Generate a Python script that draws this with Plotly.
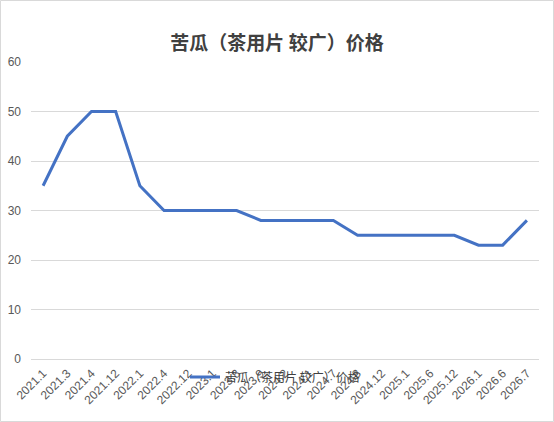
import plotly.graph_objects as go

categories = ["2021.1", "2021.3", "2021.4", "2021.12", "2022.1", "2022.4", "2022.12",
              "2023.1", "2023.8", "2023.9", "2024.2", "2024.1", "2024.7", "2024.8",
              "2024.12", "2025.1", "2025.6", "2025.12", "2026.1", "2026.6", "2026.7"]
prices = [35, 45, 50, 50, 35, 30, 30, 30, 30, 28, 28, 28, 28, 25, 25, 25, 25, 25, 23, 23, 28]
series_name = "苦瓜（茶用片 较广）价格"
title_text = "苦瓜（茶用片 较广）价格"

W, H = 554, 422
L, R, T, B = 31, 15, 62, 63
pw, ph = W - L - R, H - T - B

fig = go.Figure()
fig.add_trace(go.Scatter(
    x=list(range(len(categories))), y=prices, mode="lines", name=series_name,
    line=dict(color="#4472C4", width=3),
))

fig.update_layout(
    width=W, height=H,
    margin=dict(l=L, r=R, t=T, b=B, autoexpand=False),
    paper_bgcolor="white", plot_bgcolor="white",
    title=dict(text="<b>" + title_text + "</b>", x=0.5, xanchor="center",
               y=1 - 43 / H, yanchor="middle",
               font=dict(family="Noto Sans CJK SC", size=19, color="#404040")),
    xaxis=dict(
        range=[-0.5, len(categories) - 0.5], automargin=False,
        tickmode="array", tickvals=list(range(len(categories))), ticktext=categories,
        tickangle=-45, showgrid=False, zeroline=False, showline=False,
        ticks="", ticklabelstandoff=4,
        tickfont=dict(family="Liberation Sans, Arial", size=12, color="#595959"),
    ),
    yaxis=dict(
        range=[0, 60], dtick=10, showgrid=True, gridcolor="#d9d9d9", gridwidth=1,
        zeroline=True, zerolinecolor="#d9d9d9", zerolinewidth=1, showline=False,
        ticks="", ticklabelstandoff=9, automargin=False,
        tickfont=dict(family="Liberation Sans, Arial", size=12, color="#595959"),
    ),
    showlegend=True,
    legend=dict(orientation="h", x=(185 - L) / pw, y=(H - B - 377) / ph,
                xanchor="left", yanchor="middle", bgcolor="rgba(0,0,0,0)",
                itemwidth=30,
                font=dict(family="Noto Sans CJK SC", size=12, color="#404040")),
    shapes=[dict(type="rect", xref="paper", yref="paper",
                 x0=(0.5 - L) / pw, x1=(W - 0.5 - L) / pw,
                 y0=(H - B - (H - 0.5)) / ph, y1=(H - B - 0.5) / ph,
                 line=dict(color="#d9d9d9", width=1), layer="below")],
)

fig.write_html("out.html")
